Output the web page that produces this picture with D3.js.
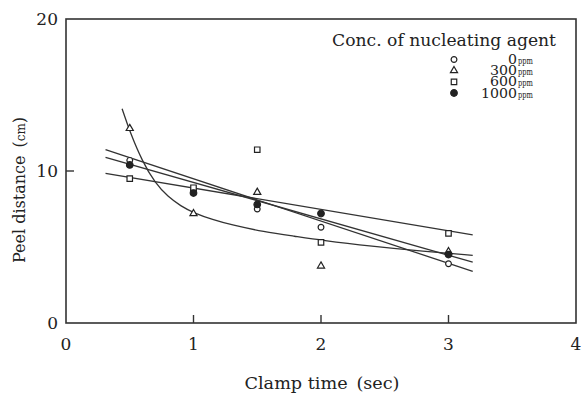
<!DOCTYPE html>
<head>
<style>
body { margin: 0; background: #fff; }
text { font-family: "DejaVu Serif", "Liberation Serif", serif; fill: #222; }
.frame { fill: none; stroke: #333; stroke-width: 1.6px; }
.fit { fill: none; stroke: #333; stroke-width: 1.3px; }
</style>
<meta charset="utf-8">
<title></title>
</head>
<body>
<script src="https://cdn.jsdelivr.net/npm/d3@7"></script>
<script>

// measured points (clamp time sec, peel distance cm)
var clampTimes = [0.5, 1, 1.5, 2, 3];
var ppm0    = [10.7, 8.75, 7.5, 6.3, 3.9];
var ppm300  = [12.8, 7.2, 8.6, 3.75, 4.7];
var ppm600  = [9.5, 8.9, 11.4, 5.3, 5.9];
var ppm1000 = [10.4, 8.55, 7.8, 7.2, 4.5];

// fitted lines (end points)
var fitX = [0.31, 3.19];
var fit0    = [11.4, 3.4];
var fit600  = [9.85, 5.8];
var fit1000 = [10.9, 4.0];

// 300ppm curve
var curveX = [0.44, 0.5, 0.6, 0.7, 0.8, 0.9, 1, 1.15, 1.3, 1.55, 1.8, 2, 2.4, 2.8, 3.19];
var curveY = [14.1, 12.6, 10.6, 9.2, 8.3, 7.7, 7.25, 6.8, 6.45, 6.0, 5.7, 5.45, 5.05, 4.72, 4.45];

var xTicks = [0, 1, 2, 3, 4];
var yTicks = [0, 10, 20];
var legendLabels = ["0", "300", "600", "1000"];

var width = 584, height = 395;

var x = d3.scaleLinear().domain([0, 4]).range([66, 576]);
var y = d3.scaleLinear().domain([0, 20]).range([323, 19]);

var svg = d3.select("body").append("svg")
    .attr("width", width)
    .attr("height", height);

// frame
svg.append("rect")
    .attr("class", "frame")
    .attr("x", x(0))
    .attr("y", y(20))
    .attr("width", x(4) - x(0))
    .attr("height", y(0) - y(20));

// inward ticks
svg.append("g").selectAll("line")
    .data(xTicks.slice(1, 4))
    .enter().append("line")
    .attr("x1", function(d) { return x(d); })
    .attr("x2", function(d) { return x(d); })
    .attr("y1", y(0))
    .attr("y2", y(0) - 8)
    .attr("stroke", "#333")
    .attr("stroke-width", 1.4);

svg.append("g").selectAll("line")
    .data([10])
    .enter().append("line")
    .attr("x1", x(0))
    .attr("x2", x(0) + 8)
    .attr("y1", function(d) { return y(d); })
    .attr("y2", function(d) { return y(d); })
    .attr("stroke", "#333")
    .attr("stroke-width", 1.4);

// tick labels
svg.append("g").selectAll("text")
    .data(xTicks)
    .enter().append("text")
    .attr("x", function(d) { return x(d); })
    .attr("y", 350)
    .attr("text-anchor", "middle")
    .style("font-size", "17px")
    .text(function(d) { return d; });

svg.append("g").selectAll("text")
    .data(yTicks)
    .enter().append("text")
    .attr("x", 58)
    .attr("y", function(d) { return y(d) + 6; })
    .attr("text-anchor", "end")
    .style("font-size", "17px")
    .text(function(d) { return d; });

// axis titles
svg.append("text")
    .attr("x", 322)
    .attr("y", 389)
    .attr("text-anchor", "middle")
    .attr("textLength", 155)
    .attr("lengthAdjust", "spacingAndGlyphs")
    .style("font-size", "16px")
    .text("Clamp time\u2002(sec)");

var yt = svg.append("text")
    .attr("transform", "translate(25,190) rotate(-90)")
    .attr("text-anchor", "middle")
    .style("font-size", "16px");
yt.append("tspan").text("Peel distance\u2002(");
yt.append("tspan").style("font-size", "12px").text("cm");
yt.append("tspan").text(")");

// fitted lines
var line = d3.line()
    .x(function(d) { return x(d[0]); })
    .y(function(d) { return y(d[1]); });

[fit0, fit600, fit1000].forEach(function(f) {
  svg.append("path")
      .attr("class", "fit")
      .attr("d", line(d3.zip(fitX, f)));
});

svg.append("path")
    .attr("class", "fit")
    .attr("d", line.curve(d3.curveBasis)(d3.zip(curveX, curveY)));

// markers
var sym = {
  "0":    d3.symbol().type(d3.symbolCircle).size(26),
  "300":  d3.symbol().type(d3.symbolTriangle).size(22),
  "600":  d3.symbol().type(d3.symbolSquare).size(30),
  "1000": d3.symbol().type(d3.symbolCircle).size(34)
};

function drawMarks(vals, key) {
  svg.append("g").selectAll("path")
      .data(d3.zip(clampTimes, vals))
      .enter().append("path")
      .attr("d", sym[key])
      .attr("transform", function(d) { return "translate(" + x(d[0]) + "," + y(d[1]) + ")"; })
      .attr("fill", key === "1000" ? "#222" : "#fff")
      .attr("stroke", "#222")
      .attr("stroke-width", 1.2);
}
drawMarks(ppm0, "0");
drawMarks(ppm300, "300");
drawMarks(ppm600, "600");
drawMarks(ppm1000, "1000");

// legend
svg.append("text")
    .attr("x", 332)
    .attr("y", 46)
    .attr("textLength", 224)
    .attr("lengthAdjust", "spacingAndGlyphs")
    .style("font-size", "16px")
    .text("Conc. of nucleating agent");

var rowY = d3.scalePoint().domain(legendLabels).range([59.5, 93]);

var leg = svg.append("g").selectAll("g")
    .data(legendLabels)
    .enter().append("g")
    .attr("transform", function(d) { return "translate(0," + rowY(d) + ")"; });

leg.append("path")
    .attr("d", function(d) { return sym[d](); })
    .attr("transform", "translate(454,0)")
    .attr("fill", function(d) { return d === "1000" ? "#222" : "#fff"; })
    .attr("stroke", "#222")
    .attr("stroke-width", 1.2);

leg.append("text")
    .attr("x", 517)
    .attr("y", 4.5)
    .attr("text-anchor", "end")
    .attr("textLength", function(d) { return d.length * 9; })
    .attr("lengthAdjust", "spacingAndGlyphs")
    .style("font-size", "12px")
    .text(function(d) { return d; });

leg.append("text")
    .attr("x", 518)
    .attr("y", 4.5)
    .attr("textLength", 15)
    .attr("lengthAdjust", "spacingAndGlyphs")
    .style("font-size", "9px")
    .text("ppm");

</script>
</body>
</html>
